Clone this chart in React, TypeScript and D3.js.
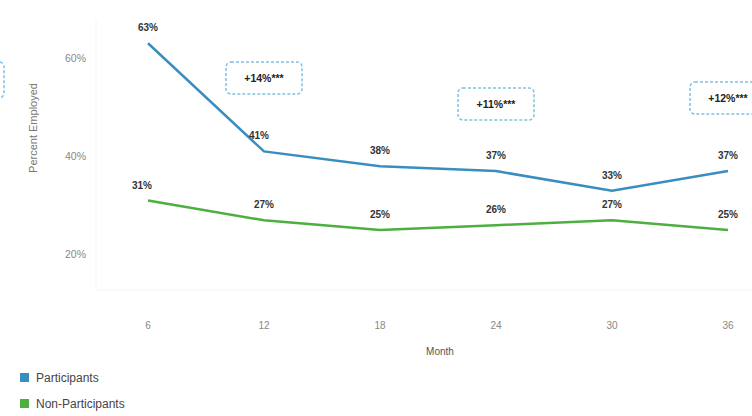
import React from 'react';
import { scaleLinear, scalePoint, line } from 'd3';

const width = 752;
const height = 416;

const months = ['6', '12', '18', '24', '30', '36'];
const participants = [63, 41, 38, 37, 33, 37];
const nonParticipants = [31, 27, 25, 26, 27, 25];
const yTicks = [20, 40, 60];
const diffLabels = ['+14%***', '+11%***', '+12%***'];
const diffMonths = ['12', '24', '36'];
const diffTop = [62, 88, 82];

const blue = '#3a8dc1';
const green = '#4caf3f';

const x = scalePoint<string>().domain(months).range([148, 728]);
const y = scaleLinear().domain([0, 60]).range([353, 58]);

const makeLine = line<number>()
  .x((_, i) => x(months[i]) as number)
  .y((d) => y(d));

const App = () => {
  const font = 'Liberation Sans, Arial, sans-serif';
  return (
    <svg
      width={width}
      height={height}
      style={{ position: 'absolute', left: 0, top: 0, background: '#fff' }}
      fontFamily={font}
    >
      {/* faint frame lines */}
      <line x1={96} x2={96} y1={20} y2={290} stroke="#f4f4f4" />
      <line x1={96} x2={752} y1={290} y2={290} stroke="#f4f4f4" />

      {/* partial box cut at left edge */}
      <rect x={-70} y={62} width={74} height={36} rx={5} fill="none" stroke="#7fc1e6" strokeWidth={1.5} strokeDasharray="3,2" />

      {yTicks.map((t) => (
        <text key={t} x={86} y={y(t)} dy="0.35em" textAnchor="end" fontSize={10.5} fill="#888">
          {t}%
        </text>
      ))}
      <text
        transform={`translate(37,${128}) rotate(-90)`}
        textAnchor="middle"
        fontSize={11}
        fill="#777"
      >
        Percent Employed
      </text>

      {months.map((m) => (
        <text key={m} x={x(m)} y={325} dy="0.35em" textAnchor="middle" fontSize={10} fill="#888">
          {m}
        </text>
      ))}
      <text x={440} y={351} dy="0.35em" textAnchor="middle" fontSize={10} fill="#555">
        Month
      </text>

      <path d={makeLine(participants) as string} fill="none" stroke={blue} strokeWidth={2.5} />
      <path d={makeLine(nonParticipants) as string} fill="none" stroke={green} strokeWidth={2.5} />

      {participants.map((v, i) => (
        <text key={'p' + i} x={(x(months[i]) as number) - (i === 1 ? 5 : 0)} y={y(v) - 12} textAnchor="middle" fontSize={10} fontWeight="bold" fill="#333">
          {v}%
        </text>
      ))}
      {nonParticipants.map((v, i) => (
        <text key={'n' + i} x={(x(months[i]) as number) - (i === 0 ? 6 : 0)} y={y(v) - 12} textAnchor="middle" fontSize={10} fontWeight="bold" fill="#333">
          {v}%
        </text>
      ))}

      {diffLabels.map((lab, i) => {
        const cx = x(diffMonths[i]) as number;
        return (
          <g key={lab}>
            <rect
              x={cx - 38}
              y={diffTop[i]}
              width={76}
              height={32}
              rx={5}
              fill="#fff"
              stroke="#7fc1e6"
              strokeWidth={1.5}
              strokeDasharray="3,2"
            />
            <text x={cx} y={diffTop[i] + 16} dy="0.35em" textAnchor="middle" fontSize={10.5} fontWeight="bold" fill="#222">
              {lab}
            </text>
          </g>
        );
      })}

      <rect x={20} y={373} width={9} height={9} fill={blue} />
      <text x={36} y={378} dy="0.35em" fontSize={12} fill="#444">
        Participants
      </text>
      <rect x={20} y={399} width={9} height={9} fill={green} />
      <text x={36} y={404} dy="0.35em" fontSize={12} fill="#444">
        Non-Participants
      </text>
    </svg>
  );
};

export default App;
